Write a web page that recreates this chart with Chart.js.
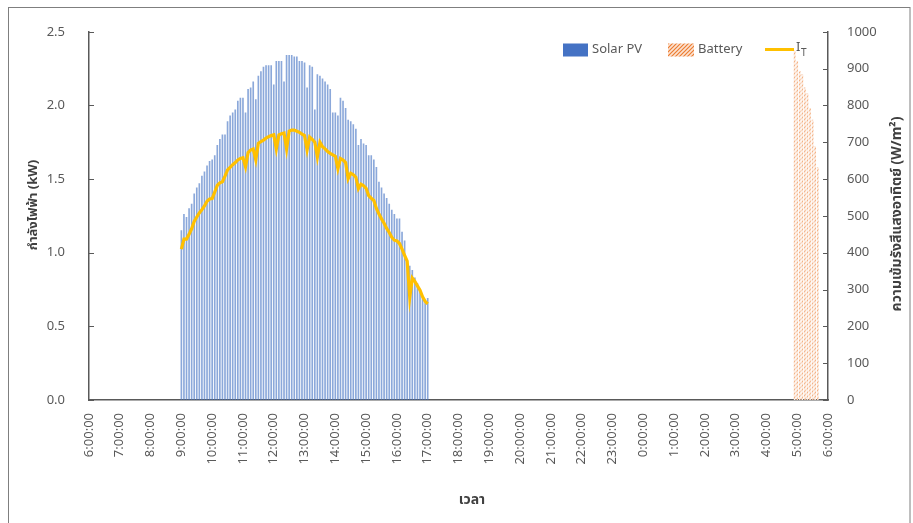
<!DOCTYPE html>
<html>
<head>
<meta charset="utf-8">
<script src="https://cdn.jsdelivr.net/npm/chart.js@4.4.1/dist/chart.umd.min.js"></script>
<style>
  html, body { margin: 0; padding: 0; background: #ffffff; }
  canvas { display: block; }
</style>
</head>
<body>
<canvas id="chart" width="913" height="523"></canvas>
<script>
// Hour ticks along the time axis: 6:00 one morning to 6:00 the next
const hourLabels = [
  "6:00:00", "7:00:00", "8:00:00", "9:00:00", "10:00:00", "11:00:00", "12:00:00",
  "13:00:00", "14:00:00", "15:00:00", "16:00:00", "17:00:00", "18:00:00", "19:00:00",
  "20:00:00", "21:00:00", "22:00:00", "23:00:00", "0:00:00", "1:00:00", "2:00:00",
  "3:00:00", "4:00:00", "5:00:00", "6:00:00"
];

// Sampling: one reading every 5 minutes
const stepMinutes = 5;

// Solar PV output (kW), 9:00 to 17:00
const pvStart = "9:00";
const solarPV = [
  1.15, 1.26, 1.24, 1.30, 1.33, 1.40, 1.44, 1.47, 1.52, 1.55,
  1.59, 1.62, 1.63, 1.66, 1.73, 1.77, 1.80, 1.80, 1.89, 1.93,
  1.95, 1.97, 2.03, 2.05, 2.05, 1.95, 2.11, 2.12, 2.16, 2.04,
  2.20, 2.23, 2.26, 2.27, 2.27, 2.27, 2.14, 2.30, 2.30, 2.30,
  2.16, 2.34, 2.34, 2.34, 2.33, 2.33, 2.30, 2.30, 2.29, 2.12,
  2.27, 2.26, 1.97, 2.21, 2.20, 2.18, 2.16, 2.14, 2.11, 1.95,
  1.95, 1.93, 2.05, 2.03, 1.98, 1.90, 1.89, 1.87, 1.84, 1.73,
  1.77, 1.74, 1.73, 1.66, 1.66, 1.63, 1.58, 1.48, 1.44, 1.40,
  1.37, 1.33, 1.29, 1.26, 1.23, 1.23, 1.14, 1.08, 0.94, 0.91,
  0.88, 0.83, 0.79, 0.75, 0.69, 0.67, 0.69
];

// Solar irradiance I_T (W/m²), same timestamps as the PV output
const irradiance = [
  410, 437, 437, 450, 465, 485, 497, 508, 517, 527,
  540, 546, 547, 565, 583, 590, 593, 608, 625, 632,
  639, 645, 652, 656, 658, 633, 672, 679, 682, 652,
  697, 702, 706, 711, 715, 718, 720, 682, 720, 723,
  725, 682, 730, 733, 733, 730, 727, 722, 718, 679,
  714, 708, 700, 660, 700, 688, 682, 675, 670, 666,
  662, 628, 656, 652, 645, 601, 616, 612, 605, 574,
  586, 582, 575, 555, 548, 542, 520, 505, 492, 480,
  466, 455, 442, 434, 432, 425, 410, 393, 377, 278,
  331, 322, 310, 298, 280, 268, 261
];

// Battery discharge (kW), early next morning
const batteryStart = "4:55";
const battery = [2.37, 2.30, 2.23, 2.21, 2.12, 2.08, 1.98, 1.90, 1.72, 1.58];

// ---------------------------------------------------------------------------

const PV_COLOR = "#4472C4";
const BATTERY_COLOR = "#ED7D31";
const IT_COLOR = "#FFC000";
const AXIS_COLOR = "#595959";
const TEXT_COLOR = "#595959";
const TITLE_COLOR = "#404040";
const FONT = '"Noto Sans", "Noto Sans Thai", Tahoma, "DejaVu Sans", sans-serif';

// Time of day -> hours on the axis (the axis runs 6..30, so early-morning times roll past 24)
function axisHour(t) {
  const [h, m] = t.split(":").map(Number);
  const v = h + m / 60;
  return v < 6 ? v + 24 : v;
}

function series(start, values) {
  const t0 = axisHour(start);
  return values.map((v, i) => ({ x: t0 + (i * stepMinutes) / 60, y: v }));
}

// Diagonal hatch used for the battery series
function hatchPattern(bg, line) {
  const c = document.createElement("canvas");
  c.width = 4; c.height = 4;
  const g = c.getContext("2d");
  g.fillStyle = bg;
  g.fillRect(0, 0, 4, 4);
  g.strokeStyle = line;
  g.lineWidth = 1.2;
  g.beginPath();
  g.moveTo(0, 4); g.lineTo(4, 0);
  g.moveTo(-1, 1); g.lineTo(1, -1);
  g.moveTo(3, 5); g.lineTo(5, 3);
  g.stroke();
  return document.getElementById("chart").getContext("2d").createPattern(c, "repeat");
}
const batteryKeyFill = hatchPattern("#FBE3D3", BATTERY_COLOR);
const batteryBarFill = hatchPattern("#FDEFE6", "rgba(237,125,49,0.55)");

// White page with a thin frame around it
const framePlugin = {
  id: "frame",
  beforeDraw(chart) {
    const ctx = chart.ctx;
    ctx.save();
    ctx.fillStyle = "#ffffff";
    ctx.fillRect(0, 0, chart.width, chart.height);
    ctx.strokeStyle = "#7f7f7f";
    ctx.lineWidth = 1;
    ctx.strokeRect(8.5, 7.5, chart.width - 3 - 8.5, chart.height + 20);
    ctx.restore();
  }
};

// Short inward tick marks on both value axes
const innerTicksPlugin = {
  id: "innerTicks",
  afterDraw(chart) {
    const ctx = chart.ctx;
    const { y, y2 } = chart.scales;
    const area = chart.chartArea;
    ctx.save();
    ctx.strokeStyle = AXIS_COLOR;
    ctx.lineWidth = 1.2;
    ctx.beginPath();
    y.ticks.forEach(t => {
      const py = Math.round(y.getPixelForValue(t.value)) + 0.5;
      ctx.moveTo(area.left, py); ctx.lineTo(area.left + 5, py);
    });
    y2.ticks.forEach(t => {
      const py = Math.round(y2.getPixelForValue(t.value)) + 0.5;
      ctx.moveTo(area.right - 5, py); ctx.lineTo(area.right, py);
    });
    ctx.stroke();
    ctx.restore();
  }
};

// Axis titles (the right one reads bottom-to-top like the left one)
const axisTitlesPlugin = {
  id: "axisTitles",
  afterDraw(chart) {
    const ctx = chart.ctx;
    ctx.save();
    ctx.fillStyle = TITLE_COLOR;
    ctx.textAlign = "center";
    ctx.textBaseline = "middle";
    ctx.font = "bold 13px " + FONT;

    ctx.save();
    ctx.translate(33, 205);
    ctx.rotate(-Math.PI / 2);
    ctx.fillText("กำลังไฟฟ้า (kW)", 0, 0);
    ctx.restore();

    ctx.font = "bold 14px " + FONT;
    ctx.save();
    ctx.translate(897, 214);
    ctx.rotate(-Math.PI / 2);
    ctx.fillText("ความเข้มรังสีแสงอาทิตย์ (W/m²)", 0, 0);
    ctx.restore();

    ctx.fillText("เวลา", 472, 500);
    ctx.restore();
  }
};

// Series key in the upper right of the plot
const keyPlugin = {
  id: "seriesKey",
  afterDraw(chart) {
    const ctx = chart.ctx;
    const area = chart.chartArea;
    const x0 = area.right - 265;
    const yc = 49.5;
    ctx.save();
    ctx.font = "13px " + FONT;
    ctx.textBaseline = "middle";
    ctx.textAlign = "left";

    ctx.fillStyle = PV_COLOR;
    ctx.fillRect(x0, yc - 6, 25, 13);
    ctx.fillStyle = TEXT_COLOR;
    ctx.fillText("Solar PV", x0 + 29, yc);

    ctx.fillStyle = batteryKeyFill;
    ctx.fillRect(x0 + 105, yc - 6, 26, 13);
    ctx.fillStyle = TEXT_COLOR;
    ctx.fillText("Battery", x0 + 135, yc);

    ctx.strokeStyle = IT_COLOR;
    ctx.lineWidth = 3;
    ctx.beginPath();
    ctx.moveTo(x0 + 202, yc); ctx.lineTo(x0 + 231, yc);
    ctx.stroke();
    ctx.fillStyle = TEXT_COLOR;
    ctx.fillText("I", x0 + 233, yc - 2);
    ctx.font = "10px " + FONT;
    ctx.fillText("T", x0 + 238, yc + 4);
    ctx.restore();
  }
};

new Chart(document.getElementById("chart"), {
  type: "bar",
  data: {
    datasets: [
      {
        type: "line",
        label: "I_T",
        data: series(pvStart, irradiance),
        yAxisID: "y2",
        borderColor: IT_COLOR,
        borderWidth: 3.2,
        pointRadius: 0,
        tension: 0,
        order: 0
      },
      {
        label: "Solar PV",
        data: series(pvStart, solarPV),
        yAxisID: "y",
        backgroundColor: "rgba(68,114,196,0.62)",
        barThickness: 1,
        grouped: false,
        order: 1
      },
      {
        label: "Battery",
        data: series(batteryStart, battery),
        yAxisID: "y",
        backgroundColor: batteryBarFill,
        barThickness: 1,
        grouped: false,
        order: 1
      }
    ]
  },
  options: {
    responsive: false,
    animation: false,
    devicePixelRatio: 1,
    layout: { padding: { top: 29, left: 0, right: 0, bottom: 0 } },
    plugins: {
      legend: { display: false },
      tooltip: { enabled: false }
    },
    scales: {
      x: {
        type: "linear",
        min: 6,
        max: 30,
        offset: false,
        grid: { display: false, drawTicks: false, offset: false },
        border: { display: true, color: AXIS_COLOR, width: 1.5 },
        ticks: {
          stepSize: 1,
          autoSkip: false,
          maxRotation: 90,
          minRotation: 90,
          padding: 13,
          color: TEXT_COLOR,
          font: { family: FONT, size: 13 },
          callback: (value, index) => hourLabels[index]
        },
        afterFit: s => { s.height = 123; }
      },
      y: {
        type: "linear",
        position: "left",
        min: 0,
        max: 2.5,
        grid: { display: false, drawTicks: false },
        border: { display: true, color: AXIS_COLOR, width: 1.5 },
        ticks: {
          stepSize: 0.5,
          padding: 24,
          color: TEXT_COLOR,
          font: { family: FONT, size: 13 },
          callback: v => v.toFixed(1)
        },
        afterFit: s => { s.width = 89; }
      },
      y2: {
        type: "linear",
        position: "right",
        min: 0,
        max: 1000,
        grid: { display: false, drawTicks: false },
        border: { display: true, color: AXIS_COLOR, width: 1.5 },
        ticks: {
          stepSize: 100,
          padding: 19,
          color: TEXT_COLOR,
          font: { family: FONT, size: 13 },
          callback: v => String(v)
        },
        afterFit: s => { s.width = 85; }
      }
    }
  },
  plugins: [framePlugin, innerTicksPlugin, axisTitlesPlugin, keyPlugin]
});
</script>
</body>
</html>
